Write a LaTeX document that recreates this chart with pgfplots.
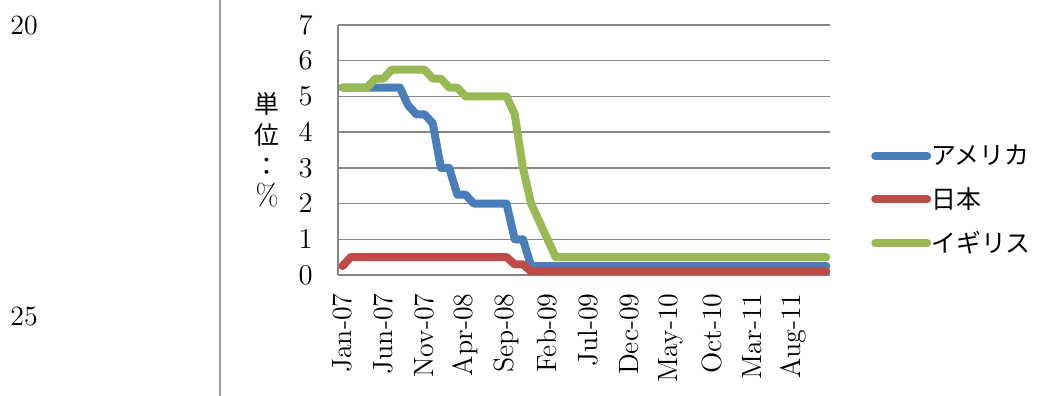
\documentclass[border=0pt]{standalone}
\usepackage{fontspec}
\newfontfamily\cjk{Noto Sans CJK JP}
\usepackage{pgfplots}
\usepackage{pgfplotstable}
\pgfplotsset{compat=1.18}
\definecolor{usblue}{HTML}{4A7EBB}
\definecolor{jpred}{HTML}{BE4B48}
\definecolor{ukgreen}{HTML}{98B954}
\definecolor{gridgray}{HTML}{868686}
\pgfplotstableread{
idx us jp uk
0 5.25 0.25 5.25
1 5.25 0.5 5.25
2 5.25 0.5 5.25
3 5.25 0.5 5.25
4 5.25 0.5 5.5
5 5.25 0.5 5.5
6 5.25 0.5 5.75
7 5.25 0.5 5.75
8 4.75 0.5 5.75
9 4.5 0.5 5.75
10 4.5 0.5 5.75
11 4.25 0.5 5.5
12 3.0 0.5 5.5
13 3.0 0.5 5.25
14 2.25 0.5 5.25
15 2.25 0.5 5.0
16 2.0 0.5 5.0
17 2.0 0.5 5.0
18 2.0 0.5 5.0
19 2.0 0.5 5.0
20 2.0 0.5 5.0
21 1.0 0.3 4.5
22 1.0 0.3 3.0
23 0.25 0.1 2.0
24 0.25 0.1 1.5
25 0.25 0.1 1.0
26 0.25 0.1 0.5
27 0.25 0.1 0.5
28 0.25 0.1 0.5
29 0.25 0.1 0.5
30 0.25 0.1 0.5
31 0.25 0.1 0.5
32 0.25 0.1 0.5
33 0.25 0.1 0.5
34 0.25 0.1 0.5
35 0.25 0.1 0.5
36 0.25 0.1 0.5
37 0.25 0.1 0.5
38 0.25 0.1 0.5
39 0.25 0.1 0.5
40 0.25 0.1 0.5
41 0.25 0.1 0.5
42 0.25 0.1 0.5
43 0.25 0.1 0.5
44 0.25 0.1 0.5
45 0.25 0.1 0.5
46 0.25 0.1 0.5
47 0.25 0.1 0.5
48 0.25 0.1 0.5
49 0.25 0.1 0.5
50 0.25 0.1 0.5
51 0.25 0.1 0.5
52 0.25 0.1 0.5
53 0.25 0.1 0.5
54 0.25 0.1 0.5
55 0.25 0.1 0.5
56 0.25 0.1 0.5
57 0.25 0.1 0.5
58 0.25 0.1 0.5
59 0.25 0.1 0.5
}\rates
\begin{document}
\begin{tikzpicture}
\path[use as bounding box] (0,0) rectangle (525bp,198bp);
\draw[color=gray!75, line width=0.7bp] (110bp,0) -- (110bp,198bp);
\node[font=\fontsize{14}{16}\selectfont, inner sep=0pt] at (12bp,185bp) {20};
\node[font=\fontsize{14}{16}\selectfont, inner sep=0pt] at (12bp,39.5bp) {25};
\begin{axis}[
  at={(169bp,60.5bp)}, anchor=south west,
  scale only axis, width=246bp, height=125bp,
  xmin=-0.55, xmax=59.45, ymin=0, ymax=7,
  clip=false,
  axis lines*=left,
  axis line style={draw=gridgray, line width=0.75bp, -},
  ymajorgrids, grid style={draw=gridgray, line width=0.75bp},
  major tick length=0pt,
  ytick={0,1,...,7},
  xtick={0,5,...,55},
  xticklabels={Jan-07,Jun-07,Nov-07,Apr-08,Sep-08,Feb-09,Jul-09,Dec-09,May-10,Oct-10,Mar-11,Aug-11},
  tick label style={font=\fontsize{14}{16}\selectfont, inner sep=0pt},
  xticklabel style={rotate=90, anchor=east},
  xticklabel shift=9bp,
  yticklabel style={anchor=east},
  yticklabel shift=12.5bp,
  ylabel={\cjk 単\\\cjk 位\\\cjk ：\\\fontsize{15}{15}\selectfont\%},
  ylabel style={at={(axis description cs:-0.144,0.5)}, anchor=center, rotate=-90, align=center,
    font=\fontsize{12.5}{15.5}\selectfont, inner sep=0pt},
  legend image code/.code={\draw[#1, line width=4bp, line cap=round] (0bp,0bp) -- (26bp,0bp);},
  legend cell align=left,
  legend style={at={(rel axis cs:1.083,0.3)}, anchor=west, draw=none, fill=none,
    font=\cjk\fontsize{12.5}{14}\selectfont, inner sep=0pt, row sep=10bp,
    nodes={inner sep=0pt},
    /tikz/every even column/.append style={column sep=3bp}},
  every axis plot/.append style={line width=4bp, line join=round, line cap=round},
]
\addplot[color=usblue] table[x=idx, y=us] {\rates};
\addlegendentry{アメリカ}
\addplot[color=jpred] table[x=idx, y=jp] {\rates};
\addlegendentry{日本}
\addplot[color=ukgreen] table[x=idx, y=uk] {\rates};
\addlegendentry{イギリス}
\end{axis}
\end{tikzpicture}
\end{document}
